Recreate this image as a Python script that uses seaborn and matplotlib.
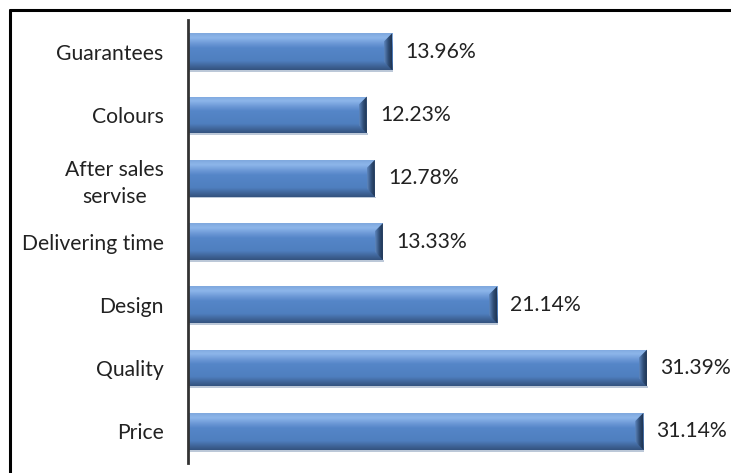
import numpy as np
import pandas as pd
import matplotlib
matplotlib.use("Agg")
import matplotlib.pyplot as plt
import seaborn as sns
from matplotlib.colors import LinearSegmentedColormap
from matplotlib.patches import Rectangle, Polygon

categories = ["Guarantees", "Colours", "After sales\nservise", "Delivering time",
              "Design", "Quality", "Price"]
values = [13.96, 12.23, 12.78, 13.33, 21.14, 31.39, 31.14]
labels = ["13.96%", "12.23%", "12.78%", "13.33%", "21.14%", "31.39%", "31.14%"]

df = pd.DataFrame({"factor": categories, "share": values})

sns.set_theme(style="white")
plt.rcParams["font.family"] = ["Lato", "DejaVu Sans"]

FS = 15.2
fig = plt.figure(figsize=(7.31, 4.73), dpi=100)
ax = fig.add_axes([188 / 731, 10 / 473, (720 - 188) / 731, (463 - 20) / 473])

sns.barplot(data=df, y="factor", x="share", orient="h", color="#4F81BD",
            width=0.58, ax=ax, saturation=1, edgecolor="none")

ax.set_xlim(0, 532 / 14.62)
ax.set_ylim(len(categories) - 0.5, -0.5)

grad = LinearSegmentedColormap.from_list(
    "bev", [(0.0, "#7FA8DE"), (0.12, "#8DB6EA"), (0.28, "#6C98D6"), (0.4, "#5586C8"),
            (0.75, "#4F7FBF"), (0.88, "#41679C"), (1.0, "#34537F")])
bevel = LinearSegmentedColormap.from_list(
    "end", [(0.0, "#5D86BE"), (0.5, "#2F4D75"), (1.0, "#1B2E48")])
for p in list(ax.patches):
    x0, y0 = p.get_x(), p.get_y()
    w, h = p.get_width(), p.get_height()
    yt, yb = min(y0, y0 + h), max(y0, y0 + h)
    z = p.get_zorder()
    im = ax.imshow(np.linspace(0, 1, 100).reshape(-1, 1), cmap=grad, aspect="auto",
                   extent=(x0, x0 + w, yb, yt), zorder=z + 0.1,
                   interpolation="bilinear")
    im.set_clip_path(p)
    bw = 0.55
    d = (yb - yt) * 0.22
    poly = Polygon([(x0 + w - bw, yt + d), (x0 + w, yt), (x0 + w, yb),
                    (x0 + w - bw, yb - d)], closed=True, facecolor="none",
                   edgecolor="none", zorder=z + 0.2)
    ax.add_patch(poly)
    im2 = ax.imshow(np.linspace(0, 1, 50).reshape(1, -1), cmap=bevel, aspect="auto",
                    extent=(x0 + w - bw, x0 + w, yb, yt), zorder=z + 0.2,
                    interpolation="bilinear")
    im2.set_clip_path(poly)
    sh = Rectangle((x0, yb), w + 0.08, 0.03, facecolor="#BCC8D8",
                   edgecolor="none", zorder=z)
    ax.add_patch(sh)

for i, (v, lab) in enumerate(zip(values, labels)):
    ax.text(v + 13 / 14.62, i, lab, va="center", ha="left", fontsize=FS,
            color="#222222")

ax.set_xlabel("")
ax.set_ylabel("")
ax.set_xticks([])
ax.tick_params(axis="y", length=0, pad=17.5, labelsize=FS, colors="#222222")
for lbl in ax.get_yticklabels():
    lbl.set_horizontalalignment("right")
    lbl.set_multialignment("center")
    lbl.set_linespacing(1.45)
for s in ["top", "right", "bottom"]:
    ax.spines[s].set_visible(False)
ax.spines["left"].set_color("#333333")
ax.spines["left"].set_linewidth(2)
ax.set_position([188 / 731, 10 / 473, (720 - 188) / 731, (463 - 20) / 473])

fig.add_artist(plt.Line2D([10 / 731, 1.0], [1 - 10 / 473, 1 - 10 / 473],
                          transform=fig.transFigure, color="black", lw=2.2))
fig.add_artist(plt.Line2D([10 / 731, 10 / 731], [0, 1 - 10 / 473],
                          transform=fig.transFigure, color="black", lw=2.2))

fig.savefig("out.png", dpi=100)
